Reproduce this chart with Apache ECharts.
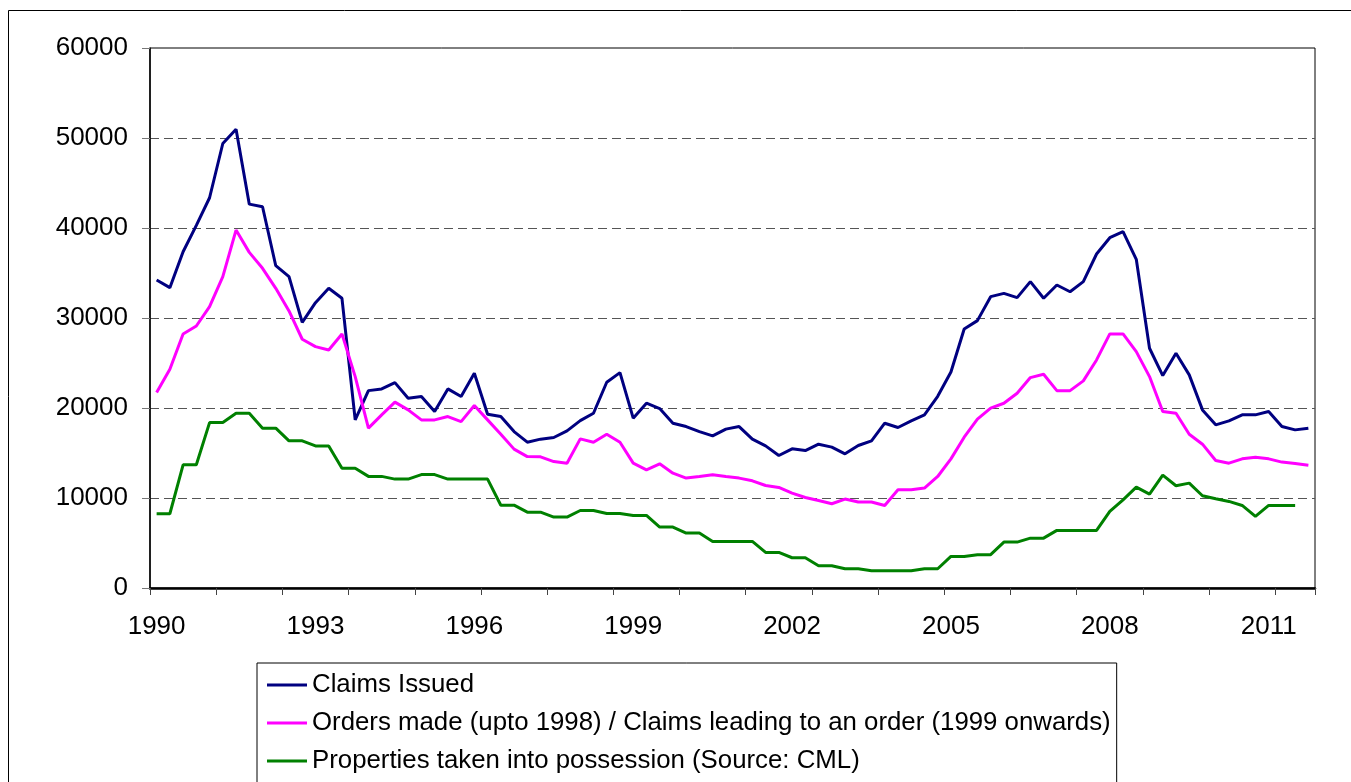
<!DOCTYPE html>
<html>
<head>
<meta charset="utf-8">
<title>Mortgage possession claims</title>
<script src="https://cdn.jsdelivr.net/npm/echarts@6.0.0/dist/echarts.min.js"></script>
<style>
  html, body { margin: 0; padding: 0; background: #fff; }
  #chart { width: 1351px; height: 782px; }
</style>
</head>
<body>
<div id="chart"></div>
<script>
// quarterly, 1990 Q1 - 2011 Q4
var years = [];
for (var y = 1990; y <= 2011; y++) {
  years.push(String(y), String(y), String(y), String(y));
}

var claimsIssued = [
  34220, 33370, 37360, 40300, 43360, 49390, 50980, 42650, 42360, 35810,
  34590, 29520, 31700, 33300, 32190, 18680, 21930, 22120, 22820, 21090,
  21270, 19600, 22120, 21270, 23860, 19310, 19050, 17380, 16200, 16540,
  16720, 17460, 18600, 19420, 22860, 23930, 18870, 20530, 19940, 18310,
  17940, 17380, 16900, 17650, 17940, 16540, 15790, 14720, 15460, 15270,
  15980, 15650, 14910, 15830, 16350, 18310, 17830, 18570, 19240, 21300,
  24000, 28780, 29710, 32370, 32740, 32260, 34040, 32190, 33670, 32920,
  34040, 37110, 38920, 39590, 36520, 26640, 23600, 26080, 23680, 19790,
  18130, 18570, 19240, 19240, 19610, 17940, 17570, 17760
];

var ordersMade = [
  21710, 24300, 28230, 29110, 31260, 34590, 39770, 37290, 35520, 33300,
  30780, 27640, 26820, 26450, 28230, 23490, 17760, 19240, 20650, 19790,
  18680, 18680, 19050, 18490, 20270, 18680, 17090, 15430, 14600, 14570,
  14050, 13870, 16570, 16200, 17090, 16200, 13870, 13130, 13800, 12760,
  12210, 12390, 12580, 12390, 12210, 11910, 11390, 11170, 10540, 10060,
  9720, 9360, 9880, 9550, 9550, 9170, 10910, 10910, 11100, 12390,
  14350, 16760, 18760, 19980, 20530, 21640, 23380, 23750, 21930, 21930,
  23010, 25340, 28230, 28230, 26260, 23490, 19610, 19420, 17090, 15980,
  14160, 13870, 14350, 14540, 14350, 13990, 13830, 13650
];

var possessions = [
  8250, 8250, 13690, 13690, 18380, 18380, 19420, 19420, 17760, 17760,
  16350, 16350, 15790, 15790, 13300, 13300, 12400, 12400, 12100, 12100,
  12600, 12600, 12100, 12100, 12100, 12100, 9200, 9200, 8430, 8430,
  7880, 7880, 8610, 8610, 8280, 8280, 8060, 8060, 6770, 6770,
  6100, 6100, 5170, 5170, 5170, 5170, 3950, 3950, 3360, 3360,
  2480, 2480, 2140, 2140, 1920, 1920, 1920, 1920, 2140, 2140,
  3510, 3510, 3700, 3700, 5100, 5100, 5540, 5540, 6400, 6400,
  6400, 6400, 8510, 9800, 11210, 10430, 12550, 11360, 11650, 10250,
  9910, 9620, 9170, 7950, 9170, 9170, 9170, null
];

var seriesNames = [
  'Claims Issued',
  'Orders made (upto 1998) / Claims leading to an order (1999 onwards)',
  'Properties taken into possession (Source: CML)'
];
var seriesColors = ['#000080', '#FF00FF', '#008000'];

var font = 'Liberation Sans, Arial, sans-serif';

var option = {
  animation: false,
  backgroundColor: '#fff',
  color: seriesColors,
  graphic: [
    {
      // outer chart frame
      type: 'rect',
      shape: { x: 8.5, y: 10.5, width: 1400, height: 800 },
      style: { fill: 'none', stroke: '#000', lineWidth: 1 },
      silent: true
    }
  ],
  grid: {
    left: 150,
    right: 36,
    top: 48,
    bottom: 194,
    show: true,
    borderColor: '#000',
    borderWidth: 1
  },
  legend: {
    orient: 'vertical',
    left: 257,
    top: 663,
    width: 1000,
    height: 200,
    padding: [7, 6, 7, 10],
    itemWidth: 40,
    itemHeight: 3,
    itemGap: 8,
    icon: 'rect',
    borderColor: '#000',
    borderWidth: 1,
    backgroundColor: '#fff',
    textStyle: {
      fontFamily: font,
      fontSize: 25.8,
      lineHeight: 30,
      color: '#000'
    },
    data: seriesNames
  },
  xAxis: {
    type: 'category',
    data: years,
    boundaryGap: true,
    axisLine: { lineStyle: { color: '#000', width: 2.5 } },
    axisTick: {
      show: true,
      interval: 4,
      length: 7,
      lineStyle: { color: '#444' }
    },
    axisLabel: {
      interval: 11,
      margin: 26,
      fontFamily: font,
      fontSize: 26,
      color: '#000'
    },
    splitLine: { show: false }
  },
  yAxis: {
    type: 'value',
    min: 0,
    max: 60000,
    interval: 10000,
    axisLine: { show: true, lineStyle: { color: '#000', width: 1.5 } },
    axisTick: { show: true, length: 8, lineStyle: { color: '#777' } },
    axisLabel: {
      margin: 22,
      fontFamily: font,
      fontSize: 26,
      color: '#000',
      formatter: function (v) { return String(v); }
    },
    splitLine: {
      show: true,
      showMinLine: false,
      showMaxLine: false,
      lineStyle: { color: '#555', width: 1, type: [9, 5] }
    }
  },
  series: [
    {
      name: seriesNames[0],
      type: 'line',
      data: claimsIssued,
      symbol: 'none',
      lineStyle: { width: 3, color: seriesColors[0] }
    },
    {
      name: seriesNames[1],
      type: 'line',
      data: ordersMade,
      symbol: 'none',
      lineStyle: { width: 3, color: seriesColors[1] }
    },
    {
      name: seriesNames[2],
      type: 'line',
      data: possessions,
      symbol: 'none',
      lineStyle: { width: 3, color: seriesColors[2] }
    }
  ]
};

var chart = echarts.init(document.getElementById('chart'));
chart.setOption(option);
</script>
</body>
</html>
